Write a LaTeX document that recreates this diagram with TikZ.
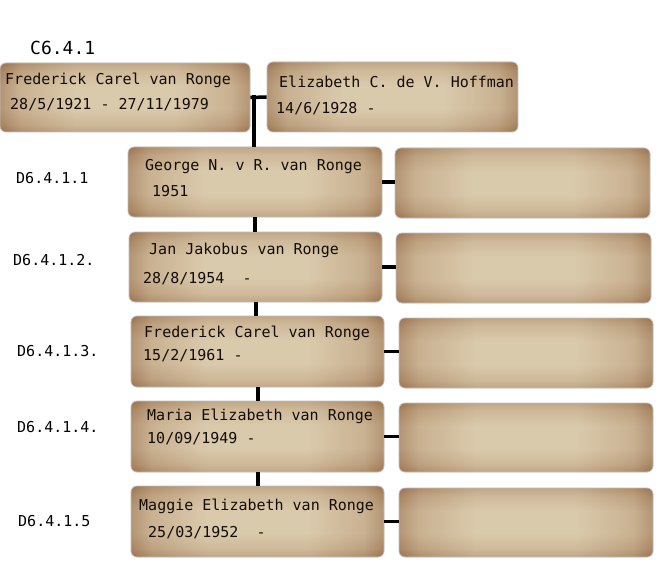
\documentclass[tikz,border=0pt]{standalone}
\usepackage{fontspec}
\newfontfamily\recordfont{DejaVu Sans Mono}
\definecolor{parchmentedge}{HTML}{9A7250}
\definecolor{parchmentmid}{HTML}{BEA280}
\definecolor{parchmentlight}{HTML}{DACAAC}
\definecolor{record text color}{HTML}{140C06}
\pgfdeclarehorizontalshading{parchment across}{100bp}{
    color(0bp)=(parchmentedge); color(25bp)=(parchmentedge);
    color(29bp)=(parchmentmid); color(40bp)=(parchmentlight);
    color(60bp)=(parchmentlight); color(71bp)=(parchmentmid);
    color(75bp)=(parchmentedge); color(100bp)=(parchmentedge)}
\pgfdeclareverticalshading{parchment down}{100bp}{
    color(0bp)=(parchmentedge); color(25bp)=(parchmentedge);
    color(31bp)=(parchmentmid); color(42bp)=(parchmentlight);
    color(58bp)=(parchmentlight); color(69bp)=(parchmentmid);
    color(75bp)=(parchmentedge); color(100bp)=(parchmentedge)}
\tikzset{
    x={1pt},
    y={-1pt},
    person box/.style={
        rectangle, rounded corners={6pt},
        draw=black!25, line width={0.8pt},
        shading=parchment across,
        minimum width={253},
        minimum height={70},
        inner sep=0pt,
        path picture={
            \shade[shading=parchment down, opacity=0.4]
                (path picture bounding box.south west) rectangle
                (path picture bounding box.north east);
        },
    },
    record text/.style={
        font={\recordfont\fontsize{15}{18}\selectfont},
        text=record text color,
        anchor=base west,
        inner sep=0pt,
    },
    record code/.style={
        font={\recordfont\fontsize{15}{18}\selectfont},
        text=black,
        anchor=base west,
        inner sep=0pt,
    },
    family code/.style={
        font={\recordfont\fontsize{18}{22}\selectfont},
        text=black,
        anchor=base west,
        inner sep=0pt,
    },
    line of descent/.style={
        draw=black,
        line width={4pt},
    },
    marriage/.style={
        draw=black,
        line width={3.5pt},
    },
}

\begin{document}
\begin{tikzpicture}
\useasboundingbox[fill=white] (0,0) rectangle (668,564);
% parents
\node[family code] (famcode) at (30,55) {C6.4.1};
\node[person box, minimum width={250}, minimum height={69}] (p1) at (125,97.5) {};
\node[person box, minimum width={251}] (p2) at (392.5,97) {};
\node[record text] (p1name) at (5,85) {Frederick Carel van Ronge};
\node[record text] (p1date) at (10,110) {28/5/1921 - 27/11/1979};
\node[record text] (p2name) at (279,88) {Elizabeth C. de V. Hoffman};
\node[record text] (p2date) at (276,114) {14/6/1928 -};
% children
\node[person box, minimum width={254}] (c1) at (255,182) {};
\node[person box] (c2) at (255.5,267) {};
\node[person box, minimum height={71}] (c3) at (257.5,351.5) {};
\node[person box, minimum height={71}] (c4) at (257.5,436.5) {};
\node[person box, minimum height={71}] (c5) at (257.5,521.5) {};
\node[record text] (c1name) at (145,170) {George N. v R. van Ronge};
\node[record text] (c1date) at (152,196) {1951};
\node[record text] (c2name) at (149,254) {Jan Jakobus van Ronge};
\node[record text] (c2date) at (143,283) {28/8/1954\ \ -};
\node[record text] (c3name) at (144,337) {Frederick Carel van Ronge};
\node[record text] (c3date) at (143,360) {15/2/1961 -};
\node[record text] (c4name) at (147,420) {Maria Elizabeth van Ronge};
\node[record text] (c4date) at (147,443) {10/09/1949 -};
\node[record text] (c5name) at (139,510) {Maggie Elizabeth van Ronge};
\node[record text] (c5date) at (148,537) {25/03/1952\ \ -};
% codes
\node[record code] (c1code) at (16,183) {D6.4.1.1};
\node[record code] (c2code) at (13,265) {D6.4.1.2.};
\node[record code] (c3code) at (17,356) {D6.4.1.3.};
\node[record code] (c4code) at (17,432) {D6.4.1.4.};
\node[record code] (c5code) at (18,526) {D6.4.1.5};
% spouses
\node[person box, minimum width={255}] (s1) at (522.5,183) {};
\node[person box, minimum width={255}] (s2) at (523.5,268) {};
\node[person box, minimum width={254}] (s3) at (526,353) {};
\node[person box, minimum width={254}, minimum height={69}] (s4) at (526,437.5) {};
\node[person box, minimum width={254}, minimum height={69}] (s5) at (526,522.5) {};
% connectors
\coordinate (couple) at (254,97);
\path[marriage] (p1.east) -- (p2.west);
\path[line of descent] ([yshift=2]couple) -- (couple |- c1.north);
\path[line of descent] (c1.south) -- (c1.south |- c2.north);
\path[line of descent] (c2.south) -- (c2.south |- c3.north);
\path[line of descent] (c3.south) -- (c3.south |- c4.north);
\path[line of descent] (c4.south) -- (c4.south |- c5.north);
\path[marriage] (c1.east) -- (c1.east -| s1.west);
\path[marriage] (c2.east) -- (c2.east -| s2.west);
\path[marriage] (c3.east) -- (c3.east -| s3.west);
\path[marriage] (c4.east) -- (c4.east -| s4.west);
\path[marriage] (c5.east) -- (c5.east -| s5.west);
\end{tikzpicture}
\end{document}
